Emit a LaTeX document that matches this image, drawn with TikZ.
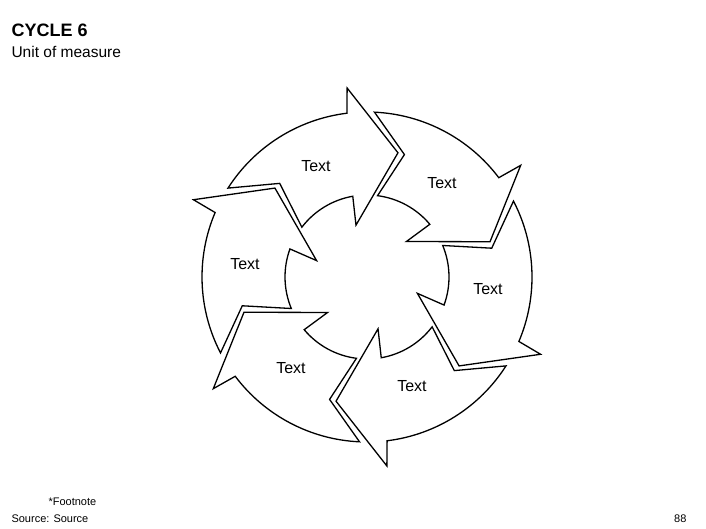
\documentclass[tikz,border=0pt]{standalone}
\usepackage{fontspec}
\setmainfont{Liberation Sans}
\begin{document}
\begin{tikzpicture}[x=1pt,y=1pt,
  arrowshape/.style={draw=black,line width=1.3pt,line join=miter,fill=white},
  lbl/.style={font=\fontsize{16}{18}\selectfont}]
\useasboundingbox (0,0) rectangle (706,529);
\def\R{165}\def\r{82}\def\g{3}
\foreach \k in {0,...,5}{
  \pgfmathsetmacro\t{76-60*\k}
  \pgfmathsetmacro\a{\t+60-\g}
  \draw[arrowshape,shift={(367,252)}]
    (\a+14.4:\R) arc[start angle=\a+14.4,end angle=\t+21,radius=\R]
    -- (\t+20:190) -- (\t:128) -- (\t+26:53) -- (\t+24:\r)
    arc[start angle=\t+24,end angle=\a+9.6,radius=\r]
    -- (\a:128) -- cycle;
}
\node[lbl] (t1) at (316,363) {Text};
\node[lbl] (t2) at (442,346) {Text};
\node[lbl] (t3) at (488,240) {Text};
\node[lbl] (t4) at (412,143) {Text};
\node[lbl] (t5) at (291,161) {Text};
\node[lbl] (t6) at (245,265) {Text};
\node[anchor=west,font=\fontsize{18}{20}\selectfont\bfseries] (title) at (8,499) {CYCLE 6};
\node[anchor=west,font=\fontsize{15.5}{18}\selectfont] (sub) at (8,477) {Unit of measure};
\node[anchor=west,font=\fontsize{11}{13}\selectfont] (fn) at (45,27) {*Footnote};
\node[anchor=west,font=\fontsize{11}{13}\selectfont] (src) at (8,10) {Source: Source};
\node[anchor=east,font=\fontsize{11}{13}\selectfont] (pg) at (690,10) {88};
\end{tikzpicture}
\end{document}
